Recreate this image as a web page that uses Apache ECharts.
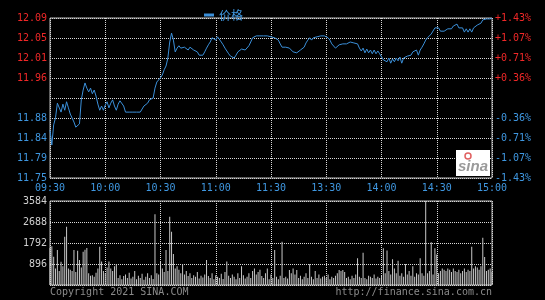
<!DOCTYPE html>
<html>
<head>
<meta charset="utf-8">
<script src="https://cdn.jsdelivr.net/npm/echarts@6/dist/echarts.min.js"></script>
<style>
html,body{margin:0;padding:0;background:#000;}
#c{width:545px;height:300px;}
</style>
</head>
<body>
<div id="c"></div>
<script>
// ---- data ----
const priceMin = 11.75;
const priceMax = 12.09;
const priceTicks = ['11.75','11.79','11.84','11.88','','11.96','12.01','12.05','12.09'];
const pctTicks = ['-1.43%','-1.07%','-0.71%','-0.36%','','+0.36%','+0.71%','+1.07%','+1.43%'];
const volTicks = ['', '896', '1792', '2688', '3584'];
const volMax = 3584;
const timeTicks = ['09:30','10:00','10:30','11:00','11:30','13:30','14:00','14:30','15:00'];

const prices = [
11.852,11.820,11.863,11.878,11.909,11.909,11.890,11.907,11.894,11.912,
11.899,11.886,11.882,11.869,11.858,11.858,11.865,11.916,11.937,11.952,
11.941,11.933,11.941,11.929,11.937,11.924,11.907,11.894,11.903,11.894,
11.905,11.912,11.899,11.909,11.916,11.903,11.894,11.907,11.914,11.916,
11.903,11.890,11.890,11.890,11.890,11.890,11.890,11.890,11.890,11.890,
11.894,11.903,11.907,11.909,11.916,11.920,11.920,11.941,11.954,11.954,
11.963,11.969,11.980,11.988,12.005,12.039,12.058,12.043,12.018,12.026,
12.031,12.026,12.022,12.028,12.026,12.022,12.028,12.026,12.022,12.022,
12.018,12.011,12.011,12.011,12.018,12.026,12.033,12.039,12.048,12.050,
12.043,12.050,12.048,12.039,12.033,12.026,12.022,12.014,12.009,12.011,
12.005,12.011,12.018,12.016,12.024,12.028,12.022,12.026,12.031,12.039,
12.048,12.048,12.052,12.054,12.052,12.054,12.052,12.054,12.052,12.054,
12.050,12.050,12.048,12.052,12.043,12.035,12.028,12.031,12.028,12.028,
12.026,12.022,12.018,12.020,12.016,12.014,12.022,12.026,12.028,12.037,
12.043,12.048,12.043,12.048,12.050,12.050,12.048,12.052,12.050,12.052,
12.050,12.048,12.043,12.035,12.031,12.026,12.026,12.033,12.037,12.035,
12.037,12.035,12.037,12.039,12.035,12.037,12.039,12.035,12.026,12.020,
12.026,12.016,12.024,12.016,12.022,12.014,12.022,12.014,12.020,12.014,
12.011,12.001,12.005,11.997,12.005,11.994,12.003,11.997,12.005,11.999,
12.007,11.994,12.005,12.001,12.009,12.011,12.011,12.018,12.020,12.022,
12.011,12.022,12.028,12.035,12.043,12.048,12.048,12.056,12.060,12.069,
12.067,12.069,12.062,12.058,12.062,12.065,12.067,12.069,12.067,12.073,
12.069,12.077,12.069,12.065,12.069,12.060,12.067,12.060,12.067,12.060,
12.069,12.071,12.075,12.073,12.079,12.086,12.086,12.088,12.086,12.088,
12.090
];

const volumes = [
1580,1650,1210,700,1490,600,995,800,2060,2490,
700,650,600,1490,550,1460,1070,750,1420,1500,
1580,500,400,420,350,520,700,1630,1000,600,
500,750,1000,700,600,800,900,300,420,250,
380,450,300,520,280,350,600,250,400,300,
480,220,350,500,300,420,260,3015,500,450,
1000,700,550,1490,600,2915,2275,1320,700,800,
650,500,900,450,600,380,500,300,420,350,
550,280,400,320,450,1070,380,300,500,250,
420,350,300,480,260,550,1000,400,300,450,
350,250,500,300,800,420,280,350,500,300,
600,700,450,550,650,380,300,500,700,250,
450,300,1490,350,250,400,1850,300,350,280,
640,500,700,450,640,300,400,250,350,500,
300,900,350,250,600,300,450,280,350,400,
300,450,250,350,300,400,500,640,600,640,
550,300,350,250,400,300,450,1140,350,300,
1380,300,250,400,350,300,450,280,350,300,
400,1565,500,1470,600,450,1100,700,500,1040,
400,500,350,900,450,600,400,800,350,500,
450,1140,500,400,3584,500,600,1820,450,1565,
1300,500,600,700,650,600,700,650,550,700,
600,550,650,500,600,700,550,650,600,1636,
700,800,750,650,800,2020,1200,600,650,700,
550
];

// minute categories (09:30-11:30, 13:01-15:00)
const times = [];
function fmt(m){const h=Math.floor(m/60),mm=m%60;return (h<10?'0':'')+h+':'+(mm<10?'0':'')+mm;}
for (let m = 570; m <= 690; m++) times.push(fmt(m));
for (let m = 781; m <= 900; m++) times.push(fmt(m));

// ---- style ----
const RED = '#f02828';
const BLUE = '#3f97e0';
const GRIDC = '#d8d8d8';
const MONO = 'DejaVu Sans Mono';
const every30 = (i) => i % 30 === 0;

const chart = echarts.init(document.getElementById('c'), null, {renderer: 'canvas'});
chart.setOption({
  backgroundColor: '#000',
  animation: false,
  legend: {
    data: ['价格'],
    left: 199, top: 4,
    icon: 'rect', itemWidth: 10, itemHeight: 3, itemGap: 6,
    textStyle: {color: BLUE, fontSize: 12, fontFamily: 'Noto Sans CJK SC'}
  },
  grid: [
    {left: 50, right: 53, top: 18, height: 160, show: true, borderColor: '#bdbdbd', borderWidth: 1, backgroundColor: 'transparent'},
    {left: 50, right: 53, top: 201, height: 84, show: true, borderColor: '#bdbdbd', borderWidth: 1, backgroundColor: 'transparent'}
  ],
  xAxis: [
    {
      type: 'category', gridIndex: 0, data: times, boundaryGap: false,
      axisLine: {show: false}, axisTick: {show: false},
      axisLabel: {interval: every30, color: BLUE, fontSize: 10, fontFamily: MONO, margin: 5, showMinLabel: true, showMaxLabel: true},
      splitLine: {show: true, interval: every30, lineStyle: {type: 'dotted', color: GRIDC, width: 1}}
    },
    {
      type: 'category', gridIndex: 1, data: times, boundaryGap: false,
      axisLine: {show: false}, axisTick: {show: false}, axisLabel: {show: false},
      splitLine: {show: true, interval: every30, lineStyle: {type: 'dotted', color: GRIDC, width: 1}}
    }
  ],
  yAxis: [
    {type: 'value', gridIndex: 0, min: priceMin, max: priceMax, show: false, splitLine: {show: false}},
    {
      type: 'value', gridIndex: 0, min: 0, max: 8, interval: 1, position: 'left',
      axisLine: {show: false}, axisTick: {show: false},
      axisLabel: {
        formatter: (v) => priceTicks[Math.round(v)],
        color: (v) => (v > 4 ? RED : BLUE), fontSize: 10, fontFamily: MONO, margin: 3
      },
      splitLine: {show: true, lineStyle: {type: 'dotted', color: GRIDC, width: 1}}
    },
    {
      type: 'value', gridIndex: 0, min: 0, max: 8, interval: 1, position: 'right',
      axisLine: {show: false}, axisTick: {show: false},
      axisLabel: {
        formatter: (v) => pctTicks[Math.round(v)],
        color: (v) => (v > 4 ? RED : BLUE), fontSize: 10, fontFamily: MONO, margin: 3
      },
      splitLine: {show: false}
    },
    {
      type: 'value', gridIndex: 1, min: 0, max: volMax, interval: 896,
      axisLine: {show: false}, axisTick: {show: false},
      axisLabel: {formatter: (v) => volTicks[Math.round(v / 896)], color: '#d0d0d0', fontSize: 10, fontFamily: MONO, margin: 3},
      splitLine: {show: true, lineStyle: {type: 'dotted', color: GRIDC, width: 1}}
    }
  ],
  series: [
    {
      name: '价格', type: 'line', xAxisIndex: 0, yAxisIndex: 0, data: prices,
      symbol: 'none', lineStyle: {color: '#3b8fd8', width: 1}, itemStyle: {color: '#3b8fd8'}
    },
    {
      name: '成交量', type: 'bar', xAxisIndex: 1, yAxisIndex: 3, data: volumes,
      barWidth: 1, itemStyle: {color: '#c8c8c8'}
    }
  ],
  graphic: [
    {type: 'rect', shape: {x: 456, y: 150, width: 34, height: 26}, style: {fill: '#ffffff'}, z: 100},
    {type: 'circle', shape: {cx: 468, cy: 156, r: 3}, style: {fill: 'none', stroke: '#e06060', lineWidth: 1.5}, z: 101},
    {type: 'text', x: 473, y: 167, style: {text: 'sina', fill: '#9a9a9a', font: 'italic bold 15px Arial', align: 'center', verticalAlign: 'middle'}, z: 101},
    {type: 'text', x: 50, y: 292, style: {text: 'Copyright 2021 SINA.COM', fill: '#8a8a8a', font: '10px "DejaVu Sans Mono"', align: 'left', verticalAlign: 'middle'}},
    {type: 'text', x: 492, y: 292, style: {text: 'http://finance.sina.com.cn', fill: '#8a8a8a', font: '10px "DejaVu Sans Mono"', align: 'right', verticalAlign: 'middle'}}
  ]
});
</script>
</body>
</html>
